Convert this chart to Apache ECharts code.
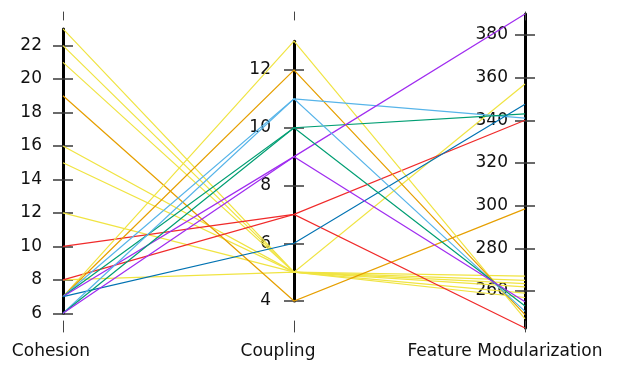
<!DOCTYPE html>
<html>
<head>
<meta charset="utf-8">
<script src="https://cdn.jsdelivr.net/npm/echarts@6/dist/echarts.min.js"></script>
<style>
  html, body { margin: 0; padding: 0; background: #ffffff; }
  #chart { width: 617px; height: 367px; }
</style>
</head>
<body>
<div id="chart"></div>
<script>
// ---- data -------------------------------------------------------------
const dimensions = ['Cohesion', 'Coupling', 'Feature Modularization'];

const cohesion = [23, 22, 21, 16, 15, 12, 8, 19, 10, 8, 7, 7, 7, 7, 7, 7, 6, 6, 6];
const coupling = [5, 5, 5, 5, 5, 5, 5, 4, 7, 7, 13, 12, 11, 10, 9, 6, 11, 10, 9];
const featureModularization = [357, 267, 265, 263.5, 262, 259, 257, 298.5, 340, 242.7,
                               247, 249, 341, 343, 389.8, 347.5, 250.5, 253, 255];
const lineColors = ['#f0e442', '#f0e442', '#f0e442', '#f0e442', '#f0e442', '#f0e442', '#f0e442',
                    '#e69f00', '#f02a2a', '#f02a2a',
                    '#f0e442', '#e69f00', '#56b4e9', '#009e73', '#a02cf0', '#0072b2',
                    '#56b4e9', '#009e73', '#a02cf0'];

const cohesionTicks = [6, 8, 10, 12, 14, 16, 18, 20, 22];
const couplingTicks = [4, 6, 8, 10, 12];
const featureTicks = [260, 280, 300, 320, 340, 360, 380];

// ---- layout -----------------------------------------------------------
const W = 617, H = 367;
const FONT = 'DejaVu Sans';
const par = { left: 63, right: 92, top: 14, bottom: 39 };
const parH = H - par.top - par.bottom;
const parW = W - par.left - par.right;

// value range covered by the full height of each parallel axis
const domains = [[5.12, 23.89], [3.065, 13.94], [242.7, 389.8]];
const columns = [cohesion, coupling, featureModularization];
const ticks = [cohesionTicks, couplingTicks, featureTicks];
const labelMargins = [21, 23, 17];
const nameShift = [24, 32, 40];
const guideMarks = [[12, 8], [321, 11]];   // [top, height] of the short marks above / below

const grids = [], xAxes = [], yAxes = [];
function addGrid(box) {
  const g = grids.length;
  grids.push(Object.assign({ containLabel: false }, box));
  xAxes.push({ gridIndex: g, type: 'value', show: false, min: 0, max: 1 });
  return g;
}

columns.forEach((col, i) => {
  const lo = Math.min(...col), hi = Math.max(...col);
  const [dLo, dHi] = domains[i];
  const x = par.left + i * parW / (columns.length - 1);

  // visible axis spanning this column's data range
  const g = addGrid({
    left: x, width: 20,
    top: par.top + (dHi - hi) / (dHi - dLo) * parH,
    height: (hi - lo) / (dHi - dLo) * parH
  });
  yAxes.push({
    gridIndex: g, type: 'value', position: 'left', min: lo, max: hi,
    axisLine: { show: true, lineStyle: { color: '#000', width: 3 } },
    axisTick: { show: true, length: 10, inside: false, customValues: ticks[i],
                lineStyle: { color: '#3a3a3a', width: 1.5 } },
    axisLabel: { show: true, customValues: ticks[i], margin: labelMargins[i],
                 fontFamily: FONT, fontSize: 17, color: '#111' },
    splitLine: { show: false }
  });
  // inner half of the crossing ticks
  yAxes.push({
    gridIndex: g, type: 'value', position: 'left', offset: 0, min: lo, max: hi,
    axisLine: { show: false },
    axisTick: { show: true, length: 10, inside: true, customValues: ticks[i],
                lineStyle: { color: '#3a3a3a', width: 1.5 } },
    axisLabel: { show: false },
    splitLine: { show: false }
  });

  // short guide marks above and below the column
  guideMarks.forEach(([top, height]) => {
    const m = addGrid({ left: x, width: 20, top: top, height: height });
    yAxes.push({
      gridIndex: m, type: 'value', position: 'left', min: 0, max: 1,
      axisLine: { show: true, lineStyle: { color: '#444', width: 1 } },
      axisTick: { show: false }, axisLabel: { show: false }, splitLine: { show: false }
    });
  });
});

// ---- parallel lines ---------------------------------------------------
const hiddenParts = {
  axisLine: { show: false },
  axisTick: { show: false, lineStyle: { opacity: 0 } },
  axisLabel: { show: false, color: 'rgba(0,0,0,0)', formatter: () => '' }
};
const parallelAxis = dimensions.map((name, i) => Object.assign({
  dim: i, name: name, type: 'value', min: domains[i][0], max: domains[i][1],
  nameLocation: 'start', nameGap: 15,
  nameTextStyle: { fontFamily: FONT, fontSize: 17, color: '#111',
                   padding: [0, nameShift[i], 0, 0] }
}, hiddenParts));

const lineData = cohesion.map((c, k) => ({
  value: [c, coupling[k], featureModularization[k]],
  lineStyle: { color: lineColors[k] }
}));

const chart = echarts.init(document.getElementById('chart'), null, { renderer: 'canvas' });
chart.setOption({
  animation: false,
  backgroundColor: '#ffffff',
  textStyle: { fontFamily: FONT },
  grid: grids,
  xAxis: xAxes,
  yAxis: yAxes,
  parallel: { left: par.left, right: par.right, top: par.top, bottom: par.bottom,
              layout: 'horizontal', parallelAxisDefault: hiddenParts },
  parallelAxis: parallelAxis,
  series: [{
    type: 'parallel',
    smooth: false,
    lineStyle: { width: 1.2, opacity: 1 },
    emphasis: { disabled: true },
    data: lineData,
    z: 5
  }]
});
</script>
</body>
</html>
